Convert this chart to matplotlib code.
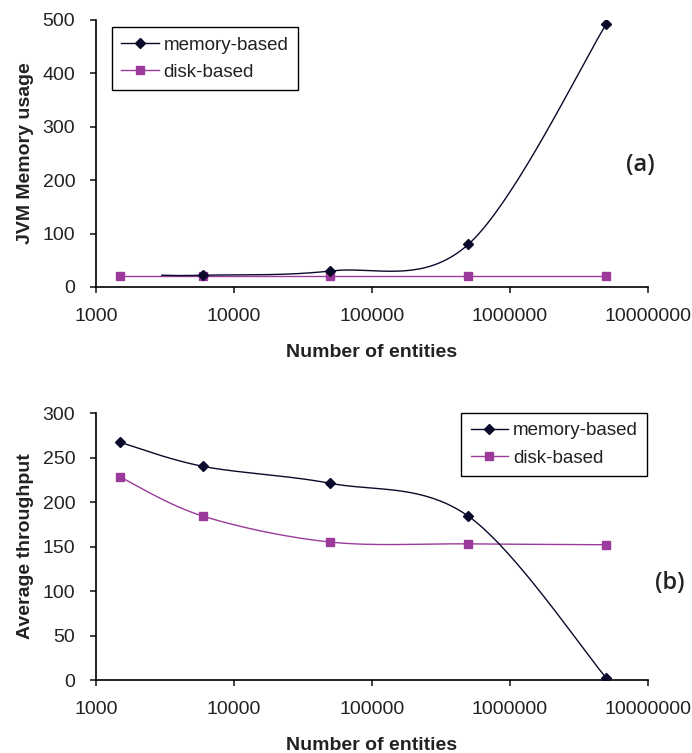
import numpy as np
import matplotlib
matplotlib.use('Agg')
import matplotlib.pyplot as plt
from matplotlib.ticker import FixedLocator, FuncFormatter

# data
x_mem_a = [3000, 6000, 50000, 500000, 5000000]
y_mem_a = [22, 22, 30, 80, 493]
x_disk_a = [1500, 6000, 50000, 500000, 5000000]
y_disk_a = [20, 20, 20, 20, 20]

x_b = [1500, 6000, 50000, 500000, 5000000]
y_mem_b = [267, 240, 221, 184, 2]
y_disk_b = [228, 184, 155, 153, 152]

x_ticks = [1000, 10000, 100000, 1000000, 10000000]

MEM_COLOR = '#0a0a2a'
DISK_COLOR = '#9b3a9b'
TEXT_COLOR = '#222222'

plt.rcParams['font.family'] = ['Liberation Sans', 'DejaVu Sans']


def smooth(xs, ys, n=40):
    """Excel-like smoothed line: cubic bezier through points (log x space)."""
    px = np.log10(np.asarray(xs, dtype=float))
    py = np.asarray(ys, dtype=float)
    pts = np.column_stack([px, py])
    out = []
    for i in range(len(pts) - 1):
        p0 = pts[i - 1] if i > 0 else pts[i]
        p1 = pts[i]
        p2 = pts[i + 1]
        p3 = pts[i + 2] if i + 2 < len(pts) else pts[i + 1]
        c1 = p1 + (p2 - p0) / 6.0
        c2 = p2 - (p3 - p1) / 6.0
        t = np.linspace(0, 1, n)[:, None]
        seg = ((1 - t) ** 3) * p1 + 3 * ((1 - t) ** 2) * t * c1 \
            + 3 * (1 - t) * t ** 2 * c2 + t ** 3 * p2
        out.append(seg if i == 0 else seg[1:])
    out = np.vstack(out)
    return 10 ** out[:, 0], out[:, 1]


def style_axes(ax, ymax, ystep, ylabel):
    ax.set_xscale('log')
    ax.set_xlim(1000, 10000000)
    ax.set_ylim(0, ymax)
    ax.set_yticks(np.arange(0, ymax + 1, ystep))
    ax.xaxis.set_major_locator(FixedLocator(x_ticks))
    ax.xaxis.set_minor_locator(FixedLocator([]))
    ax.xaxis.set_major_formatter(FuncFormatter(lambda v, p: '%d' % v))
    for s in ['top', 'right']:
        ax.spines[s].set_visible(False)
    for s in ['left', 'bottom']:
        ax.spines[s].set_linewidth(1.2)
    ax.tick_params(direction='out', length=4, width=1.2, labelsize=14, pad=11,
                   colors=TEXT_COLOR)
    ax.set_xlabel('Number of entities', fontsize=14, fontweight='bold', color=TEXT_COLOR)
    ax.set_ylabel(ylabel, fontsize=14, fontweight='bold', color=TEXT_COLOR)
    ax.xaxis.set_label_coords(0.5, -0.215)
    ax.yaxis.set_label_coords(-0.112, 0.5)


def draw(ax, xm, ym, xd, yd, mem_marks):
    sx, sy = smooth(xm, ym)
    ax.plot(sx, sy, color=MEM_COLOR, lw=1.0, zorder=3)
    sx, sy = smooth(xd, yd)
    ax.plot(sx, sy, color=DISK_COLOR, lw=1.0, zorder=2)
    ax.plot(xm, ym, linestyle='none', marker='D', ms=5, color=MEM_COLOR,
            markevery=mem_marks, zorder=3)
    ax.plot(xd, yd, linestyle='none', marker='s', ms=6, color=DISK_COLOR, zorder=2)
    # legend proxies
    h1, = ax.plot([], [], color=MEM_COLOR, lw=1.0, marker='D', ms=5, label='memory-based')
    h2, = ax.plot([], [], color=DISK_COLOR, lw=1.0, marker='s', ms=6, label='disk-based')
    return [h1, h2]


def add_legend(ax, fig, handles, loc, anchor):
    leg = ax.legend(handles=handles, loc=loc, bbox_to_anchor=anchor,
                    bbox_transform=fig.transFigure, fontsize=13.5, fancybox=False,
                    edgecolor='black', framealpha=1, handlelength=2.0, borderpad=0.5,
                    labelspacing=0.55, handletextpad=0.25, borderaxespad=0)
    leg.get_frame().set_linewidth(1.0)
    for t in leg.get_texts():
        t.set_color(TEXT_COLOR)
    return leg


fig = plt.figure(figsize=(6.92, 7.53), dpi=100)

ax1 = fig.add_axes([0.1387, 0.6189, 0.7977, 0.3546])
handles = draw(ax1, x_mem_a, y_mem_a, x_disk_a, y_disk_a, slice(1, None))
style_axes(ax1, 500, 100, 'JVM Memory usage')
add_legend(ax1, fig, handles, 'upper left', (112 / 692, 1 - 27 / 753))
fig.text(640 / 692, 1 - 165 / 753, '(a)', fontsize=17, family=['Open Sans', 'DejaVu Sans'],
         fontweight='semibold', ha='center', va='center', color=TEXT_COLOR)

ax2 = fig.add_axes([0.1387, 0.0969, 0.7977, 0.3546])
handles = draw(ax2, x_b, y_mem_b, x_b, y_disk_b, None)
style_axes(ax2, 300, 50, 'Average throughput')
add_legend(ax2, fig, handles, 'upper right', (647 / 692, 1 - 413 / 753))
fig.text(670 / 692, 1 - 583 / 753, '(b)', fontsize=17, family=['Open Sans', 'DejaVu Sans'],
         fontweight='semibold', ha='center', va='center', color=TEXT_COLOR)

fig.savefig('out.png', dpi=100)
